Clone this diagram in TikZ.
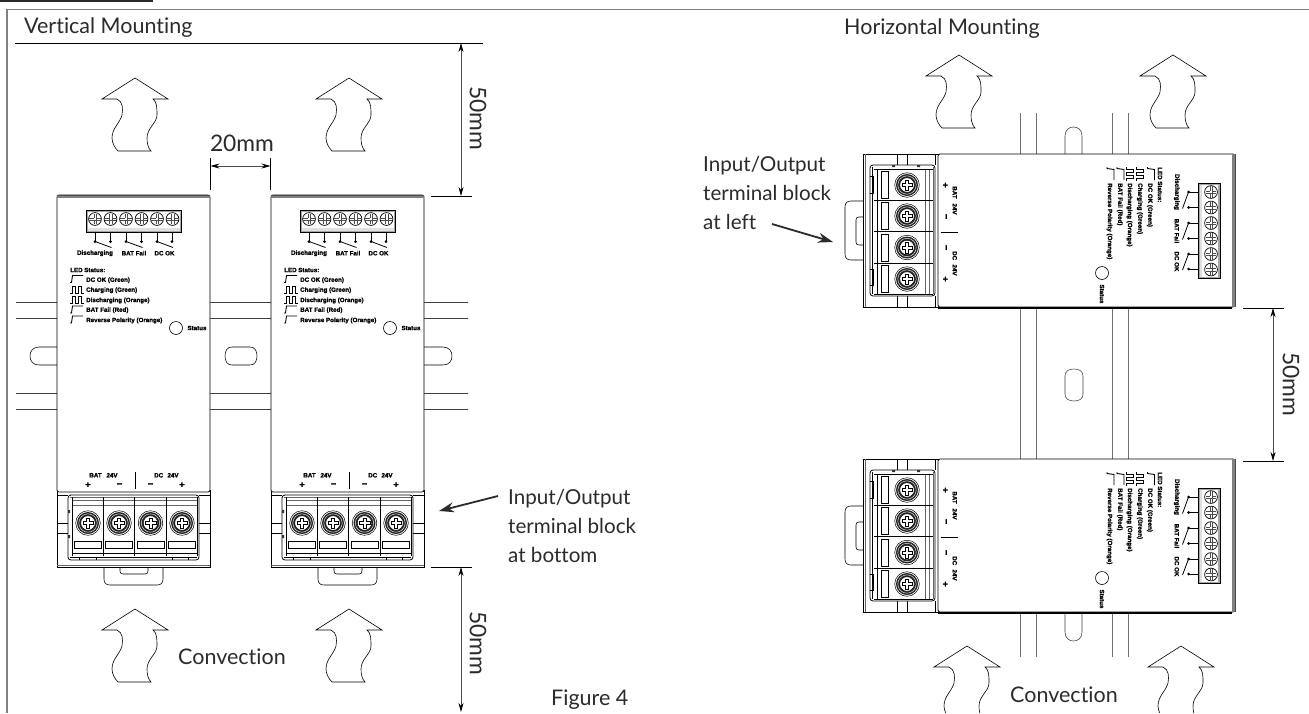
\documentclass[tikz,border=0pt]{standalone}
\usepackage{fontspec}
\setmainfont{Lato}[Ligatures={NoCommon}]
\newfontfamily\labfont{Liberation Sans}[BoldFeatures={FakeBold=1.2}]
\usetikzlibrary{arrows.meta}
\definecolor{ink}{HTML}{2B2B2B}
\definecolor{railgray}{HTML}{707070}
\definecolor{framegray}{HTML}{808080}
\tikzset{
  body/.style={line width=0.8pt,draw=black},
  thinline/.style={line width=0.55pt,draw=black},
  rail/.style={line width=0.9pt,draw=railgray},
  flowarrow/.style={line width=0.6pt,draw=black,fill=white},
  dim/.style={line width=0.7pt,draw=black!70,{Stealth[length=9pt,width=5pt,black]}-{Stealth[length=9pt,width=5pt,black]}},
  ext/.style={line width=0.7pt,draw=black},
  leader/.style={line width=1.8pt,draw=ink,-{Stealth[length=15pt,width=10pt,ink]}},
  caption/.style={text=ink,font=\fontsize{21.5}{25}\selectfont,inner sep=0pt},
  multi/.style={text=ink,font=\fontsize{20.6}{29}\selectfont,inner sep=0pt,align=left,anchor=west},
  dimtext/.style={text=ink,font=\fontsize{22.8}{27}\selectfont,inner sep=0pt},
  tiny/.style={font=\labfont\bfseries\fontsize{6.2}{7}\selectfont,inner sep=0pt,transform shape,text=black},
  tinyleft/.style={tiny,anchor=west},
}
% flow arrow, tip at #1,#2
\newcommand{\flowshape}[2]{%
  \draw[flowarrow,shift={(#1,#2)}] (0,0) -- (33,21) -- (18,21)
    .. controls (22,24) and (22,30) .. (22,37)
    .. controls (22,45) and (12,50) .. (12,60)
    .. controls (12,65) and (13,70) .. (16,73)
    -- (-17,73)
    .. controls (-20,70) and (-23,65) .. (-23,60)
    .. controls (-23,50) and (-15,45) .. (-13,37)
    .. controls (-12,30) and (-12,24) .. (-18,21)
    -- (-33,21) -- cycle;}
\newcommand{\bigscrew}[1]{%
  \draw[line width=0.5pt,fill=white] (#1,523) circle (12.3);
  \fill[black!85] (#1,523) circle (11);
  \draw[line width=0.4pt,draw=white,fill=black!85] (#1,523) circle (9.2);
  \draw[line width=0.5pt,fill=white] (#1,523) circle (7.3);
  \draw[line width=0.4pt,fill=white] (#1-1.5,523-5.2) -- (#1+1.5,523-5.2) -- (#1+1.5,523-1.5) -- (#1+5.2,523-1.5) -- (#1+5.2,523+1.5) -- (#1+1.5,523+1.5) -- (#1+1.5,523+5.2) -- (#1-1.5,523+5.2) -- (#1-1.5,523+1.5) -- (#1-5.2,523+1.5) -- (#1-5.2,523-1.5) -- (#1-1.5,523-1.5) -- cycle;}
\newcommand{\smallscrew}[1]{%
  \draw[line width=0.7pt,fill=white] (#1,219) circle (6.4);
  \draw[line width=0.35pt,draw=black!70] (#1-5.6,217.8) -- (#1+5.6,217.8) (#1-5.6,220.2) -- (#1+5.6,220.2);
  \draw[line width=0.35pt,draw=black!70] (#1-1.2,213.6) -- (#1-1.2,224.4) (#1+1.2,213.6) -- (#1+1.2,224.4);
  \fill[white] (#1-1,218) rectangle (#1+1,220);}
\newcommand{\relay}[2]{%
  \draw[line width=0.9pt] (#1,232) -- (#1,241) (#2,232) -- (#2,241);
  \fill (#1,241.5) circle (1.5) (#2,241.5) circle (1.5);
  \draw[line width=0.8pt] (#1,241.5) -- (#2+1,247.5);}
\newcommand{\stepwave}[1]{%
  \draw[line width=0.9pt] (70,#1+7) -- (71.5,#1+7) -- (72.5,#1) -- (83,#1);}
\newcommand{\squarewave}[1]{%
  \draw[line width=0.9pt] (70,#1+7) -- (72,#1+7) -- (72,#1) -- (75.5,#1) -- (75.5,#1+7) -- (78,#1+7) -- (78,#1) -- (81,#1) -- (81,#1+7) -- (83.5,#1+7);}
% #1 name prefix, #2 #3 origin, #4 rotation. Inside: coordinates of the first vertical unit.
\newcommand{\device}[4]{%
\begin{scope}[shift={(#2,#3)},rotate=#4,shift={(-57,-567)}]
  % tab
  \draw[thinline,fill=white] (104,567) -- (104,579) .. controls (104,583) and (106,585) .. (110,585) -- (157,585) .. controls (161,585) and (163,583) .. (163,579) -- (163,567);
  \draw[thinline] (120,567) -- (120,571) .. controls (120,573) and (121,574) .. (123,574) -- (145,574) .. controls (147,574) and (148,573) .. (148,571) -- (148,567);
  % terminal zone
  \draw[body,fill=white] (57,490) rectangle (210,567);
  \draw[thinline,draw=black!60] (57,565) -- (210,565);
  \draw[thinline] (57,495) -- (68,495) (199,495) -- (210,495);
  \draw[thinline] (57,523) -- (68,523) (57,533) -- (68,533) (199,523) -- (210,523) (199,533) -- (210,533);
  \draw[body,rounded corners=3pt,fill=white] (68,495) rectangle (199,560);
  \draw[thinline,draw=black!60] (70,497) -- (197,497);
  \draw[thinline,draw=black!60] (72.5,500.5) -- (197,500.5) (72.5,505) -- (197,505);
  \draw[thinline] (70,557.5) -- (197,557.5);
  \draw[thinline] (72.5,553) -- (197,553);
  \foreach \cx in {74.5,105.5,137,168}{
    \draw[line width=0.9pt,fill=white] (\cx,541.5) rectangle (\cx+27,548.5);
  }
  \draw[line width=0.5pt] (72.5,497) -- (72.5,556);
  \draw[line width=0.9pt] (103.6,497) -- (103.6,556) (134.8,497) -- (134.8,556) (166,497) -- (166,556);
  \draw[line width=0.5pt] (197,497) -- (197,556);
  \draw[thinline] (79,560) -- (79,557) -- (96,557) -- (96,560) (172,560) -- (172,557) -- (188,557) -- (188,560);
  \fill[black!80] (68,510) rectangle (70,513) (68,535) rectangle (70,538);
  \bigscrew{88}\bigscrew{119}\bigscrew{150.5}\bigscrew{182}
  % housing
  \draw[body,fill=white,rounded corners=2pt] (57,195) rectangle (210,492);
  \fill[black!50] (57,195) rectangle (210,198);
  \draw[line width=0.5pt,draw=black!70] (57,195) -- (210,195);
  % six-way header
  \draw[line width=0.7pt,fill=black!35] (86,210) rectangle (181.5,232);
  \fill[white] (88,212) rectangle (180,228);
  \fill[black!12] (88,228) rectangle (180,230.5);
  \smallscrew{95}\smallscrew{110.5}\smallscrew{126}\smallscrew{141.5}\smallscrew{157}\smallscrew{172.5}
  \relay{95}{110.5}\relay{126}{141.5}\relay{157}{172}
  \node[tiny] (#1dis) at (95,253.2) {Discharging};
  \node[tiny] (#1bat) at (134,253.2) {BAT Fail};
  \node[tiny] (#1dc) at (164.5,253.2) {DC OK};
  \node[tinyleft] (#1led) at (70,270) {LED Status:};
  \stepwave{275.5}\squarewave{286.5}\squarewave{296.5}\stepwave{306}\stepwave{316}
  \node[tinyleft] (#1l1) at (86,280.2) {DC OK (Green)};
  \node[tinyleft] (#1l2) at (86,290.2) {Charging (Green)};
  \node[tinyleft] (#1l3) at (86,300.5) {Discharging (Orange)};
  \node[tinyleft] (#1l4) at (86,310.2) {BAT Fail (Red)};
  \node[tinyleft] (#1l5) at (86,320.5) {Reverse Polarity (Orange)};
  \node[draw,line width=0.6pt,circle,minimum size=13pt,inner sep=0pt] (#1circ) at (176,328) {};
  \node[tiny] (#1stat) at (197,328) {Status};
  \node[tiny] (#1b1) at (95.5,475.3) {BAT};
  \node[tiny] (#1b2) at (112,475.3) {24V};
  \node[tiny] (#1b3) at (158.7,475.3) {DC};
  \node[tiny] (#1b4) at (173,475.3) {24V};
  \node[tiny,font=\labfont\bfseries\fontsize{9}{9}\selectfont] (#1p1) at (88,485) {+};
  \node[tiny,font=\labfont\bfseries\fontsize{9}{9}\selectfont] (#1m1) at (119.5,485) {\textminus};
  \node[tiny,font=\labfont\bfseries\fontsize{9}{9}\selectfont] (#1m2) at (150.5,485) {\textminus};
  \node[tiny,font=\labfont\bfseries\fontsize{9}{9}\selectfont] (#1p2) at (182,485) {+};
  \draw[line width=1pt] (135,472) -- (135,489);
\end{scope}}
\begin{document}
\begin{tikzpicture}[x=1pt,y=-1pt]
\path[use as bounding box] (0,0) rectangle (1309,713);
\fill[white] (0,0) rectangle (1309,713);
% page furniture
\fill[ink] (0,0) rectangle (153,2);
\draw[line width=1.3pt,draw=framegray] (7,713) -- (7,9.5) -- (1309,9.5);
\coordinate (ruleL) at (15,43);
\coordinate (ruleR) at (483,43);
\draw[ext] (ruleL) -- (ruleR);
\node[caption,anchor=west] (vtitle) at (24,28) {Vertical Mounting};
\node[caption,anchor=west] (htitle) at (844,29) {Horizontal Mounting};
% vertical rails
\draw[rail,draw=black!75,line width=0.7pt] (16,302) -- (57,302) (16,318) -- (57,318) (16,393) -- (57,393) (16,409) -- (57,409);
\draw[rail,draw=black!75,line width=0.7pt] (210,302) -- (271,302) (210,318) -- (271,318) (210,393) -- (271,393) (210,409) -- (271,409);
\draw[rail,draw=black!75,line width=0.7pt] (424,302) -- (468,302) (424,318) -- (468,318) (424,393) -- (468,393) (424,409) -- (468,409);
\draw[thinline] (57,347) -- (39,347) .. controls (33,347) and (30,351) .. (30,356) .. controls (30,361) and (33,365) .. (39,365) -- (57,365);
\draw[thinline] (232,347) -- (250,347) .. controls (255,347) and (257,351) .. (257,356) .. controls (257,361) and (255,365) .. (250,365) -- (232,365) .. controls (227,365) and (225,361) .. (225,356) .. controls (225,351) and (227,347) .. (232,347) -- cycle;
\draw[thinline] (424,347) -- (443,347) .. controls (449,347) and (452,351) .. (452,356) .. controls (452,361) and (449,365) .. (443,365) -- (424,365);
% horizontal rails
\foreach \rx in {1020.5,1036.5,1112,1128}{
  \draw[rail] (\rx,113) -- (\rx,154) (\rx,308) -- (\rx,459) (\rx,613) -- (\rx,657);
}
\draw[thinline,draw=black!75] (1065,154) -- (1065,136) .. controls (1065,130) and (1069,127) .. (1073.5,127) .. controls (1078,127) and (1082,130) .. (1082,136) -- (1082,154);
\draw[thinline,draw=black!75] (1065,376) .. controls (1065,371) and (1069,369) .. (1074,369) .. controls (1079,369) and (1083,371) .. (1083,376) -- (1083,394) .. controls (1083,399) and (1079,401) .. (1074,401) .. controls (1069,401) and (1065,399) .. (1065,394) -- cycle;
\draw[thinline,draw=black!75] (1065,613) -- (1065,632) .. controls (1065,638) and (1069,641) .. (1073.5,641) .. controls (1078,641) and (1082,638) .. (1082,632) -- (1082,613);
% units
\device{va}{57}{567}{0}
\device{vb}{271}{567}{0}
\device{ha}{863}{154}{-90}
\device{hb}{863}{459}{-90}
\draw[line width=1.2pt] (938,308) -- (1232,308) (938,613) -- (1232,613);
% convection arrows
\flowshape{135}{78}\flowshape{349}{78}
\flowshape{135}{609}\flowshape{349}{609}
\flowshape{959}{55}\flowshape{1173}{55}
\begin{scope}
  \clip (800,600) rectangle (1309,712);
  \flowshape{967}{646}\flowshape{1181}{646}
\end{scope}
% dimensions
\coordinate (d20a) at (210.5,166); \coordinate (d20b) at (270.5,166);
\draw[ext] (210.5,158) -- (210.5,190) (270.5,158) -- (270.5,190);
\draw[dim] (d20a) -- (d20b);
\node[dimtext] (t20) at (242,143) {20mm};
\coordinate (d1a) at (461,43); \coordinate (d1b) at (461,196);
\draw[ext] (431,196) -- (472,196);
\draw[dim] (d1a) -- (d1b);
\node[dimtext,rotate=-90] (t50a) at (478,118) {50mm};
\coordinate (d2a) at (461,567); \coordinate (d2b) at (461,712);
\draw[ext] (431,567) -- (472,567);
\draw[dim] (d2a) -- (d2b);
\node[dimtext,rotate=-90] (t50b) at (478,643) {50mm};
\coordinate (d3a) at (1273,308); \coordinate (d3b) at (1273,461);
\draw[ext] (1243,308) -- (1284,308) (1243,461) -- (1284,461);
\draw[dim] (d3a) -- (d3b);
\node[dimtext,rotate=-90] (t50c) at (1291,384) {50mm};
% labels
\node[multi] (iob) at (508,526) {Input/Output\\terminal block\\at bottom};
\coordinate (iobS) at (498,496); \coordinate (iobT) at (439,511);
\draw[leader] (iobS) -- (iobT);
\node[multi] (iol) at (703,193) {Input/Output\\terminal block\\at left};
\coordinate (iolS) at (772,224); \coordinate (iolT) at (833,242);
\draw[leader] (iolS) -- (iolT);
\node[caption,anchor=west] (cva) at (178,657) {Convection};
\node[caption,anchor=west] (cvb) at (1010,695) {Convection};
\node[caption,anchor=west] (fig) at (551,699.5) {Figure 4};
\end{tikzpicture}
\end{document}
